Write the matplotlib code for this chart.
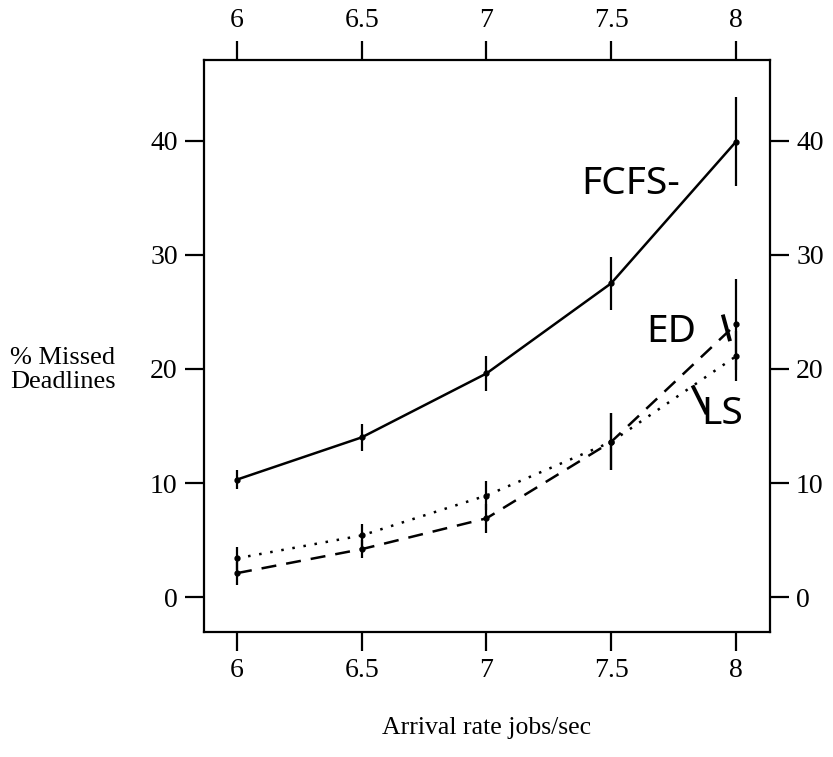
import matplotlib
matplotlib.use("Agg")
import matplotlib.pyplot as plt

# arrival rates (jobs/sec)
rates = [6, 6.5, 7, 7.5, 8]

# % missed deadlines
fcfs = [10.3, 14.0, 19.6, 27.5, 39.9]
fcfs_err = [0.8, 1.2, 1.5, 2.3, 3.9]
edf = [2.1, 4.2, 6.9, 13.6, 23.9]
edf_err = [1.0, 0.8, 1.3, 2.5, 4.0]
ls = [3.4, 5.4, 8.9, 13.6, 21.1]
ls_err = [1.0, 1.0, 1.3, 2.5, 2.2]

xticks = [6, 6.5, 7, 7.5, 8]
xticklabels = ["6", "6.5", "7", "7.5", "8"]
yticks = [0, 10, 20, 30, 40]

plt.rcParams["font.family"] = ["Liberation Serif", "DejaVu Serif"]

fig = plt.figure(figsize=(8.33, 7.57), dpi=100)
ax = fig.add_axes([0.245, 0.165, 0.679, 0.756])

common = dict(color="black", elinewidth=1.6, capsize=0, marker="o", markersize=3.5, linewidth=1.8)
ax.errorbar(rates, fcfs, yerr=fcfs_err, linestyle="-", **common)
ax.errorbar(rates, edf, yerr=edf_err, linestyle=(0, (6, 4)), **common)
ax.errorbar(rates, ls, yerr=ls_err, linestyle=(0, (1, 3.5)), **common)

ax.set_xlim(5.868, 8.136)
ax.set_ylim(-3.07, 47.1)
ax.set_xticks(xticks)
ax.set_xticklabels(xticklabels)
ax.set_yticks(yticks)

for s in ax.spines.values():
    s.set_linewidth(1.6)
ax.tick_params(direction="out", length=14, width=1.6, labelsize=20, pad=5,
               top=True, labeltop=True, right=True, labelright=True)

ax.set_xlabel("Arrival rate jobs/sec", fontsize=18.5, labelpad=24)
fig.text(0.012, 0.511, "% Missed\nDeadlines", fontsize=19, ha="left", va="center",
         linespacing=1.15)

# handwritten labels
hand = dict(family=["Noto Sans", "DejaVu Sans"], fontsize=28, color="black")
ax.text(7.38, 35.3, "FCFS-", **hand)
ax.text(7.64, 22.4, "ED", **hand)
ax.plot([7.95, 7.975], [24.6, 22.6], color="black", linewidth=2.8)
ax.text(7.86, 15.2, "LS", **hand)
ax.plot([7.83, 7.88], [18.4, 16.2], color="black", linewidth=2.8)

plt.savefig("out.png", dpi=100)
